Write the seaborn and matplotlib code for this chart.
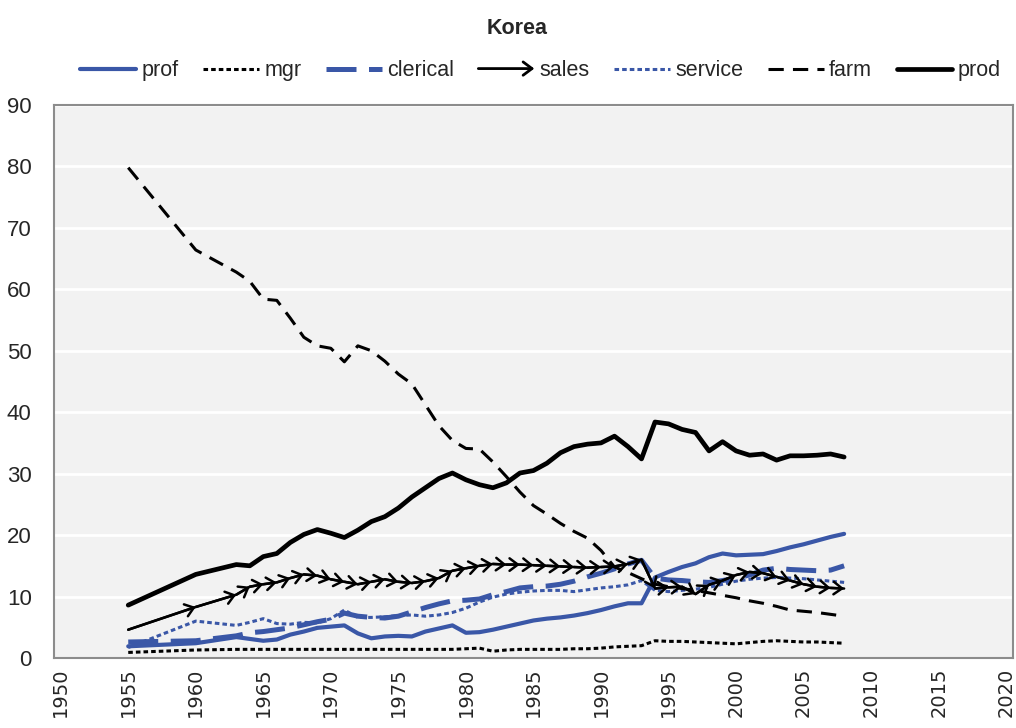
import matplotlib
matplotlib.use("Agg")
import matplotlib.pyplot as plt
import seaborn as sns
from matplotlib.patches import FancyArrowPatch
from matplotlib.legend_handler import HandlerBase
from matplotlib.ticker import MultipleLocator

years = [1955, 1960] + list(range(1963, 2009))

prof = [1.9, 2.4, 3.4, 3.1, 2.8, 3.0, 3.8, 4.3, 4.9, 5.1,
        5.3, 4.0, 3.2, 3.5, 3.6, 3.5, 4.3, 4.8, 5.3, 4.1,
        4.2, 4.6, 5.1, 5.6, 6.1, 6.4, 6.6, 6.9, 7.3, 7.8,
        8.4, 8.9, 8.9, 13.1, 14.0, 14.8, 15.4, 16.4, 17.0, 16.7,
        16.8, 16.9, 17.4, 18.0, 18.5, 19.1, 19.7, 20.2]
mgr = [0.9, 1.3, 1.4, 1.4, 1.4, 1.4, 1.4, 1.4, 1.4, 1.4,
       1.4, 1.4, 1.4, 1.4, 1.4, 1.4, 1.4, 1.4, 1.4, 1.5,
       1.6, 1.1, 1.3, 1.4, 1.4, 1.4, 1.4, 1.5, 1.5, 1.6,
       1.8, 1.9, 2.0, 2.8, 2.7, 2.7, 2.6, 2.5, 2.4, 2.3,
       2.5, 2.7, 2.8, 2.7, 2.6, 2.6, 2.5, 2.4]
clerical = [2.6, 2.8, 3.6, 4.1, 4.3, 4.6, 4.9, 5.4, 5.9, 6.3,
            7.3, 6.8, 6.6, 6.5, 6.8, 7.5, 8.2, 8.8, 9.3, 9.4,
            9.6, 10.3, 10.8, 11.4, 11.6, 11.7, 12.0, 12.5, 13.2, 13.8,
            14.5, 15.3, 15.9, 13.0, 12.7, 12.6, 12.4, 12.3, 12.6, 13.0,
            13.5, 14.3, 14.6, 14.4, 14.3, 14.2, 14.3, 15.0]
sales = [4.6, 8.3, 10.3, 11.6, 12.0, 12.3, 13.0, 13.6, 13.4, 12.8,
         12.4, 12.0, 12.4, 12.8, 12.4, 12.2, 12.5, 13.0, 14.2, 14.6,
         15.0, 15.3, 15.2, 15.2, 15.1, 15.0, 14.9, 14.8, 14.7, 14.8,
         14.9, 15.3, 16.0, 11.3, 11.5, 11.6, 10.4, 11.9, 12.6, 13.5,
         14.0, 13.8, 13.2, 12.6, 12.0, 11.6, 11.4, 11.3]
service = [1.7, 6.0, 5.3, 5.8, 6.4, 5.6, 5.5, 5.8, 5.7, 6.4,
           7.8, 6.6, 6.6, 6.7, 6.9, 7.0, 6.8, 7.0, 7.4, 8.1,
           9.1, 9.9, 10.4, 10.7, 10.9, 11.0, 11.0, 10.8, 11.1, 11.4,
           11.6, 11.9, 12.6, 11.0, 10.8, 11.0, 11.2, 11.5, 12.0, 12.5,
           12.8, 13.0, 13.1, 13.0, 12.9, 12.7, 12.5, 12.3]
farm = [79.8, 66.4, 62.8, 61.3, 58.4, 58.2, 55.3, 52.2, 50.8, 50.4,
        48.2, 50.8, 50.0, 48.3, 46.2, 44.6, 41.2, 37.8, 35.4, 34.1,
        34.0, 31.9, 29.5, 27.0, 24.8, 23.4, 21.9, 20.6, 19.5, 17.5,
        14.8, 13.9, 12.9, 12.0, 11.6, 11.3, 11.0, 10.6, 10.2, 9.8,
        9.3, 8.9, 8.4, 7.8, 7.6, 7.4, 7.1, 6.8]
prod = [8.6, 13.6, 15.2, 15.0, 16.5, 17.0, 18.8, 20.1, 20.9, 20.3,
        19.6, 20.8, 22.2, 23.0, 24.4, 26.2, 27.7, 29.2, 30.1, 29.0,
        28.2, 27.7, 28.5, 30.1, 30.5, 31.7, 33.4, 34.4, 34.8, 35.0,
        36.1, 34.4, 32.4, 38.4, 38.1, 37.2, 36.7, 33.7, 35.2, 33.7,
        33.0, 33.2, 32.2, 32.9, 32.9, 33.0, 33.2, 32.7]

blue = "#3a57a7"
arrow = "->,head_length=0.4,head_width=0.3"

sns.set_style("white")
plt.rcParams["font.family"] = ["Liberation Sans", "DejaVu Sans"]

fig = plt.figure(figsize=(10.16, 7.28), dpi=100)
ax = fig.add_axes([0.0531, 0.0962, 0.9439, 0.7596])
ax.set_facecolor("#f2f2f2")

styles = [
    ("prof", prof, dict(color=blue, lw=3.0, linestyle="-")),
    ("mgr", mgr, dict(color="black", lw=2.2, linestyle=(0, (1.5, 1)))),
    ("clerical", clerical, dict(color=blue, lw=3.6, linestyle=(0, (6, 2.5)))),
    ("sales", sales, dict(color="black", lw=1.8, linestyle="-")),
    ("service", service, dict(color=blue, lw=2.2, linestyle=(0, (1.5, 1)))),
    ("farm", farm, dict(color="black", lw=2.2, linestyle=(0, (5, 3)))),
    ("prod", prod, dict(color="black", lw=3.4, linestyle="-")),
]

for name, vals, kw in styles:
    sns.lineplot(x=years, y=vals, ax=ax, label=name, **kw)
    if name == "sales":
        # arrow head on every segment, like the excel series
        for i in range(1, len(years)):
            ax.annotate("", xy=(years[i], vals[i]), xytext=(years[i - 1], vals[i - 1]),
                        arrowprops=dict(arrowstyle=arrow, mutation_scale=15, lw=1.8,
                                        color="black", shrinkA=0, shrinkB=0))

ax.set_xlim(1949.5, 2020.5)
ax.set_ylim(0, 90)
ax.yaxis.set_major_locator(MultipleLocator(10))
ax.xaxis.set_major_locator(MultipleLocator(5))
ax.set_xticks([y + 0.5 for y in range(1949, 2021)], minor=True)
ax.grid(axis="y", color="white", lw=2)
ax.set_axisbelow(True)

ax.tick_params(axis="x", which="major", length=0, pad=7, labelsize=14,
               labelrotation=90, labelfontfamily="DejaVu Sans")
ax.tick_params(axis="x", which="minor", length=6, width=1.5, color="#a0a0a0", direction="out")
ax.tick_params(axis="y", length=0, pad=16, labelsize=16)
for s in ax.spines.values():
    s.set_color("#8c8c8c")
    s.set_linewidth(1.5)
ax.set_xlabel("")
ax.set_ylabel("")


class ArrowHandler(HandlerBase):
    def create_artists(self, legend, orig_handle, xdescent, ydescent,
                       width, height, fontsize, trans):
        y = height / 2 - ydescent
        a = FancyArrowPatch((-xdescent, y), (width - xdescent, y),
                            arrowstyle=arrow, mutation_scale=16, lw=2, color="black",
                            shrinkA=0, shrinkB=0, transform=trans)
        return [a]


handles, labels = ax.get_legend_handles_labels()
ax.legend(handles, labels, loc="center", bbox_to_anchor=(0.532, 0.903),
          bbox_transform=fig.transFigure, ncol=7, frameon=False, fontsize=15.5,
          handlelength=2.6, handletextpad=0.25, columnspacing=1.13,
          handler_map={handles[3]: ArrowHandler()})

fig.text(0.509, 0.961, "Korea", ha="center", va="center", fontsize=15.5, fontweight="bold")

fig.savefig("out.png", dpi=100)
